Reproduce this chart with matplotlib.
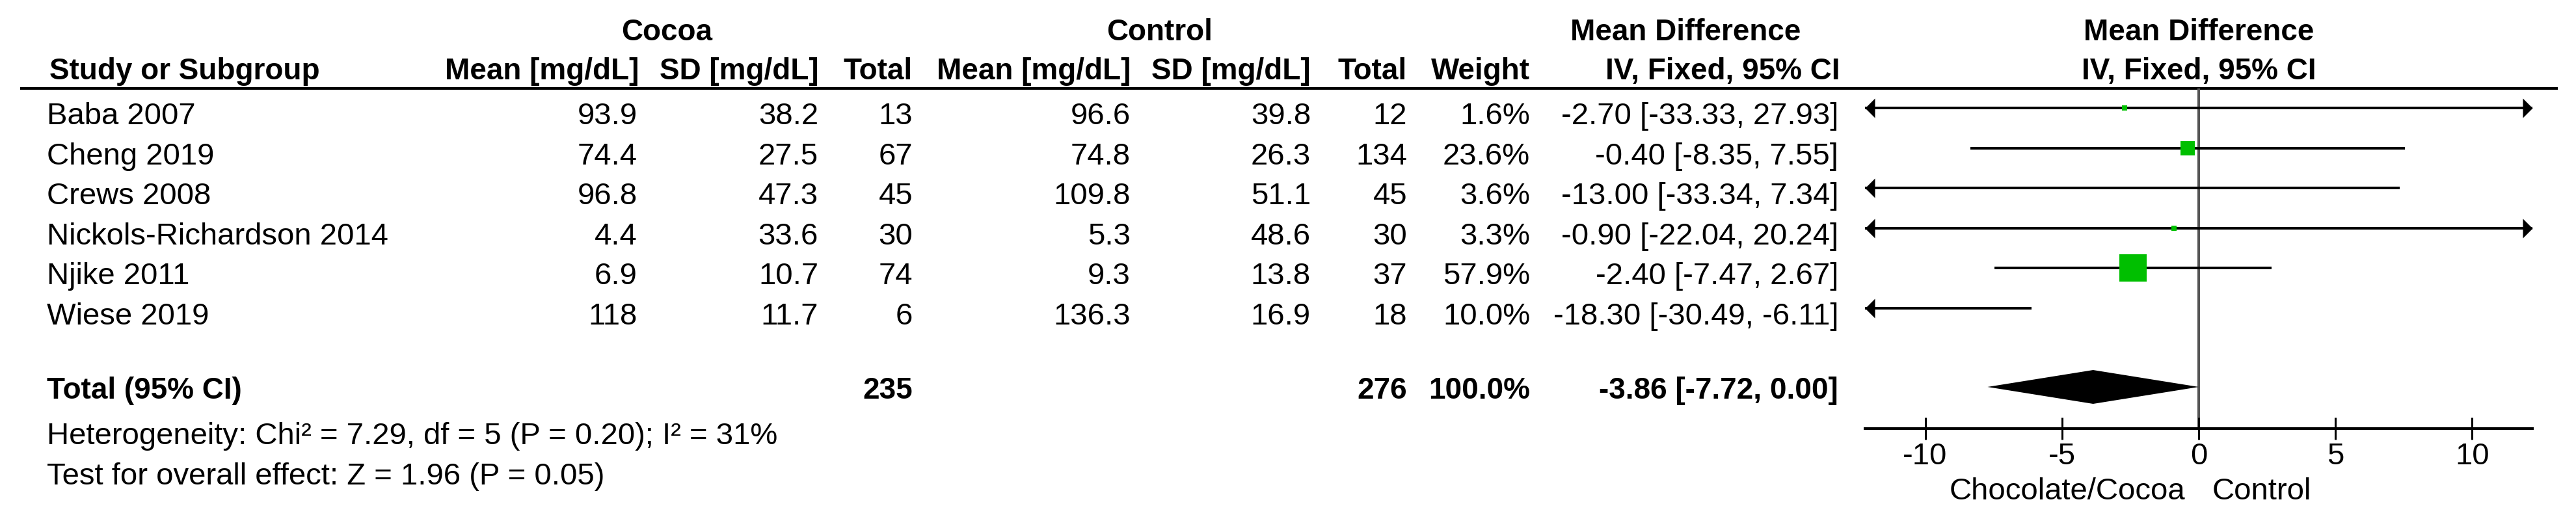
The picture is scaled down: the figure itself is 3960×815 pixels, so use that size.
import matplotlib
matplotlib.use('Agg')
import matplotlib.pyplot as plt

# Study level data (cocoa vs control, fasting glucose in mg/dL)
studies = ['Baba 2007', 'Cheng 2019', 'Crews 2008', 'Nickols-Richardson 2014',
           'Njike 2011', 'Wiese 2019']
cocoa_mean = [93.9, 74.4, 96.8, 4.4, 6.9, 118]
cocoa_sd = [38.2, 27.5, 47.3, 33.6, 10.7, 11.7]
cocoa_n = [13, 67, 45, 30, 74, 6]
control_mean = [96.6, 74.8, 109.8, 5.3, 9.3, 136.3]
control_sd = [39.8, 26.3, 51.1, 48.6, 13.8, 16.9]
control_n = [12, 134, 45, 30, 37, 18]
weights = [1.6, 23.6, 3.6, 3.3, 57.9, 10.0]
md = [-2.70, -0.40, -13.00, -0.90, -2.40, -18.30]
ci_low = [-33.33, -8.35, -33.34, -22.04, -7.47, -30.49]
ci_high = [27.93, 7.55, 7.34, 20.24, 2.67, -6.11]

# Pooled result
total_cocoa = 235
total_control = 276
total_weight = 100.0
total_md = -3.86
total_low = -7.72
total_high = 0.00

heterogeneity = 'Heterogeneity: Chi² = 7.29, df = 5 (P = 0.20); I² = 31%'
overall_effect = 'Test for overall effect: Z = 1.96 (P = 0.05)'
favours = ['Chocolate/Cocoa', 'Control']
x_ticks = [-10, -5, 0, 5, 10]
x_limit = 12.2

W, H = 3960, 815
REG = 34
BOLD = 33
GREEN = '#00bf00'


def put(ax, x, y, s, ha='left', bold=False):
    ax.text(x, y, s, ha=ha, va='baseline', fontsize=BOLD if bold else REG,
            fontweight='bold' if bold else 'normal', color='black')


def ci_text(m, lo, hi):
    return '{:.2f} [{:.2f}, {:.2f}]'.format(m, lo, hi)


def plot_forest():
    plt.rcParams['font.family'] = ['Liberation Sans', 'DejaVu Sans']
    plt.rcParams['axes.unicode_minus'] = False

    fig = plt.figure(figsize=(W / 100, H / 100), dpi=100)

    # table axes in pixel units
    tab = fig.add_axes([0, 0, 1, 1])
    tab.set_xlim(0, W)
    tab.set_ylim(H, 0)
    tab.axis('off')

    # column right edges
    col_cm, col_csd, col_cn = 980, 1258, 1403
    col_km, col_ksd, col_kn = 1738, 2015, 2163
    col_w, col_ci = 2352, 2826
    left = 72

    # headers
    put(tab, 1025, 62, 'Cocoa', 'center', True)
    put(tab, 1783, 62, 'Control', 'center', True)
    put(tab, 2591, 62, 'Mean Difference', 'center', True)
    put(tab, 76, 122, 'Study or Subgroup', bold=True)
    put(tab, col_cm + 2, 122, 'Mean [mg/dL]', 'right', True)
    put(tab, col_csd + 1, 122, 'SD [mg/dL]', 'right', True)
    put(tab, col_cn, 122, 'Total', 'right', True)
    put(tab, col_km, 122, 'Mean [mg/dL]', 'right', True)
    put(tab, col_ksd, 122, 'SD [mg/dL]', 'right', True)
    put(tab, col_kn, 122, 'Total', 'right', True)
    put(tab, col_w, 122, 'Weight', 'right', True)
    put(tab, col_ci + 3, 122, 'IV, Fixed, 95% CI', 'right', True)
    tab.plot([31, 3932], [136, 136], color='black', lw=2.9,
             solid_capstyle='butt')

    row_top, row_step = 166, 61.6
    rows = [row_top + i * row_step for i in range(len(studies))]

    for i, y in enumerate(rows):
        b = y + 25
        put(tab, left, b, studies[i])
        put(tab, col_cm, b, '{:g}'.format(cocoa_mean[i]), 'right')
        put(tab, col_csd, b, '{:g}'.format(cocoa_sd[i]), 'right')
        put(tab, col_cn, b, str(cocoa_n[i]), 'right')
        put(tab, col_km, b, '{:g}'.format(control_mean[i]), 'right')
        put(tab, col_ksd, b, '{:g}'.format(control_sd[i]), 'right')
        put(tab, col_kn, b, str(control_n[i]), 'right')
        put(tab, col_w, b, '{:.1f}%'.format(weights[i]), 'right')
        put(tab, col_ci, b, ci_text(md[i], ci_low[i], ci_high[i]), 'right')

    total_y = 595
    tb = total_y + 18
    put(tab, left, tb, 'Total (95% CI)', bold=True)
    put(tab, col_cn, tb, str(total_cocoa), 'right', True)
    put(tab, col_kn, tb, str(total_control), 'right', True)
    put(tab, col_w, tb, '{:.1f}%'.format(total_weight), 'right', True)
    put(tab, col_ci, tb, ci_text(total_md, total_low, total_high), 'right', True)
    put(tab, left, 683, heterogeneity)
    put(tab, left, 745, overall_effect)

    # forest plot axes, y in the same pixel units
    p_left, p_right, p_top, p_bottom = 2867, 3893, 136, 659
    ax = fig.add_axes([p_left / W, 1 - p_bottom / H,
                       (p_right - p_left) / W, (p_bottom - p_top) / H])
    ax.set_xlim(-x_limit, x_limit)
    ax.set_ylim(p_bottom, p_top)
    ax.set_facecolor('none')
    for s in ['top', 'left', 'right']:
        ax.spines[s].set_visible(False)
    ax.spines['bottom'].set_linewidth(2.9)
    ax.set_yticks([])
    ax.set_xticks(x_ticks)
    ax.set_xticklabels([str(t) for t in x_ticks])
    ax.tick_params(axis='x', direction='inout', length=24.5, width=2.2,
                   pad=2.9, labelsize=REG)

    ax.axvline(0, color='#555555', lw=2.9, zorder=1)

    left_arrow = [(0, 0), (1, 1), (1, -1), (0, 0)]
    right_arrow = [(0, 0), (-1, 1), (-1, -1), (0, 0)]
    for i, y in enumerate(rows):
        lo = max(ci_low[i], -x_limit)
        hi = min(ci_high[i], x_limit)
        ax.plot([lo, hi], [y, y], color='black', lw=2.9,
                solid_capstyle='butt', zorder=2, clip_on=False)
        if ci_low[i] < -x_limit:
            ax.plot(lo, y, marker=left_arrow, ms=21.6, color='black',
                    mew=0, zorder=2, clip_on=False)
        if ci_high[i] > x_limit:
            ax.plot(hi, y, marker=right_arrow, ms=21.6, color='black',
                    mew=0, zorder=2, clip_on=False)
        if -x_limit < md[i] < x_limit:
            side = 7 + 0.6 * weights[i]
            ax.plot(md[i], y, marker='s', ms=side * 0.72, color=GREEN,
                    mew=0, zorder=3)

    ax.fill([total_low, total_md, total_high, total_md],
            [total_y, total_y - 26, total_y, total_y + 26],
            color='black', lw=0, zorder=3)

    # plot headers and favours labels
    put(ax, 0, 62, 'Mean Difference', 'center', True)
    put(ax, 0, 122, 'IV, Fixed, 95% CI', 'center', True)
    put(ax, -0.5, 768, favours[0], 'right')
    put(ax, 0.5, 768, favours[1], 'left')

    fig.savefig('out.png', dpi=100)


def main():
    plot_forest()


if __name__ == '__main__':
    main()
